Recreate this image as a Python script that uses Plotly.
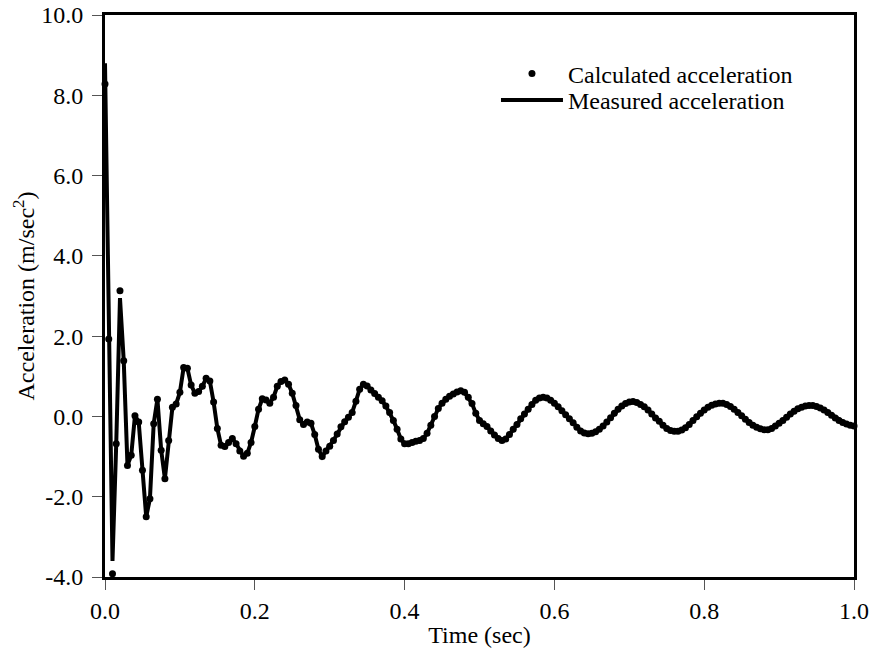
import plotly.graph_objects as go

# Time samples (sec), step 0.005
time_s = [round(i * 0.005, 3) for i in range(201)]

calculated = [
    8.28, 1.93, -3.92, -0.68, 3.13, 1.39, -1.22, -0.97, 0.02, -0.14,
    -1.34, -2.50, -2.05, -0.18, 0.43, -0.84, -1.55, -0.60, 0.23, 0.31,
    0.60, 1.22, 1.20, 0.78, 0.58, 0.62, 0.75, 0.95, 0.88, 0.36,
    -0.30, -0.72, -0.75, -0.65, -0.55, -0.68, -0.86, -0.99, -0.92, -0.65,
    -0.25, 0.18, 0.44, 0.41, 0.33, 0.48, 0.75, 0.87, 0.91, 0.80,
    0.58, 0.27, -0.08, -0.20, -0.14, -0.17, -0.45, -0.82, -1.00, -0.86,
    -0.74, -0.60, -0.44, -0.26, -0.13, -0.02, 0.10, 0.38, 0.68, 0.80,
    0.76, 0.66, 0.57, 0.48, 0.39, 0.26, 0.10, -0.10, -0.32, -0.56,
    -0.68, -0.68, -0.65, -0.62, -0.60, -0.55, -0.42, -0.22, 0.00, 0.20,
    0.33, 0.43, 0.50, 0.56, 0.61, 0.64, 0.60, 0.48, 0.32, 0.08,
    -0.10, -0.18, -0.25, -0.36, -0.46, -0.55, -0.60, -0.56, -0.45, -0.32,
    -0.20, -0.06, 0.06, 0.18, 0.30, 0.40, 0.46, 0.48, 0.46, 0.40,
    0.33, 0.24, 0.14, 0.04, -0.06, -0.16, -0.27, -0.36, -0.41, -0.43,
    -0.42, -0.38, -0.32, -0.24, -0.14, -0.03, 0.08, 0.18, 0.26, 0.32,
    0.36, 0.37, 0.35, 0.30, 0.24, 0.16, 0.06, -0.04, -0.12, -0.22,
    -0.30, -0.35, -0.37, -0.37, -0.34, -0.28, -0.20, -0.10, -0.01, 0.08,
    0.16, 0.23, 0.28, 0.31, 0.33, 0.33, 0.30, 0.25, 0.18, 0.10,
    0.02, -0.07, -0.15, -0.22, -0.27, -0.31, -0.33, -0.33, -0.30, -0.24,
    -0.17, -0.10, -0.02, 0.06, 0.13, 0.19, 0.23, 0.26, 0.27, 0.27,
    0.25, 0.21, 0.16, 0.10, 0.03, -0.04, -0.10, -0.15, -0.19, -0.22,
    -0.24,
]

measured = [
    8.80, 1.93, -3.60, -0.68, 2.95, 1.39, -1.22, -0.97, 0.02, -0.14,
    -1.34, -2.50, -2.05, -0.18, 0.43, -0.84, -1.55, -0.60, 0.23, 0.31,
    0.60, 1.22, 1.20, 0.78, 0.58, 0.62, 0.75, 0.95, 0.88, 0.36,
    -0.30, -0.72, -0.75, -0.65, -0.55, -0.68, -0.86, -0.99, -0.92, -0.65,
    -0.25, 0.18, 0.44, 0.41, 0.33, 0.48, 0.75, 0.87, 0.91, 0.80,
    0.58, 0.27, -0.08, -0.20, -0.14, -0.17, -0.45, -0.82, -1.00, -0.86,
    -0.74, -0.60, -0.44, -0.26, -0.13, -0.02, 0.10, 0.38, 0.68, 0.80,
    0.76, 0.66, 0.57, 0.48, 0.39, 0.26, 0.10, -0.10, -0.32, -0.56,
    -0.68, -0.68, -0.65, -0.62, -0.60, -0.55, -0.42, -0.22, 0.00, 0.20,
    0.33, 0.43, 0.50, 0.56, 0.61, 0.64, 0.60, 0.48, 0.32, 0.08,
    -0.10, -0.18, -0.25, -0.36, -0.46, -0.55, -0.60, -0.56, -0.45, -0.32,
    -0.20, -0.06, 0.06, 0.18, 0.30, 0.40, 0.46, 0.48, 0.46, 0.40,
    0.33, 0.24, 0.14, 0.04, -0.06, -0.16, -0.27, -0.36, -0.41, -0.43,
    -0.42, -0.38, -0.32, -0.24, -0.14, -0.03, 0.08, 0.18, 0.26, 0.32,
    0.36, 0.37, 0.35, 0.30, 0.24, 0.16, 0.06, -0.04, -0.12, -0.22,
    -0.30, -0.35, -0.37, -0.37, -0.34, -0.28, -0.20, -0.10, -0.01, 0.08,
    0.16, 0.23, 0.28, 0.31, 0.33, 0.33, 0.30, 0.25, 0.18, 0.10,
    0.02, -0.07, -0.15, -0.22, -0.27, -0.31, -0.33, -0.33, -0.30, -0.24,
    -0.17, -0.10, -0.02, 0.06, 0.13, 0.19, 0.23, 0.26, 0.27, 0.27,
    0.25, 0.21, 0.16, 0.10, 0.03, -0.04, -0.10, -0.15, -0.19, -0.22,
    -0.24,
]

x_tick_vals = [0.0, 0.2, 0.4, 0.6, 0.8, 1.0]
x_tick_text = ["0.0", "0.2", "0.4", "0.6", "0.8", "1.0"]
y_tick_vals = [-4, -2, 0, 2, 4, 6, 8, 10]
y_tick_text = ["-4.0", "-2.0", "0.0", "2.0", "4.0", "6.0", "8.0", "10.0"]

FONT = "Liberation Serif, Times New Roman, serif"
FS = 24

fig = go.Figure()
fig.add_trace(go.Scatter(
    x=time_s, y=measured, mode="lines", name="Measured acceleration",
    line=dict(color="black", width=4),
    legend="legend2",
))
fig.add_trace(go.Scatter(
    x=time_s, y=calculated, mode="markers", name="Calculated acceleration",
    marker=dict(color="black", size=7),
    cliponaxis=False,
    legend="legend",
))

axis_common = dict(
    showgrid=False, zeroline=False,
    showline=True, linecolor="black", linewidth=3, mirror=True,
    ticks="outside", ticklen=10, tickwidth=1, tickcolor="#555555",
    tickfont=dict(family=FONT, size=FS, color="black"),
    automargin=False,
)

legend_common = dict(
    xanchor="left", yanchor="middle",
    bgcolor="rgba(0,0,0,0)",
    font=dict(family=FONT, size=FS, color="black"),
    itemwidth=62,
)

fig.update_layout(
    width=874, height=651,
    margin=dict(l=105, r=20, t=15, b=74),
    plot_bgcolor="white", paper_bgcolor="white",
    font=dict(family=FONT, size=FS, color="black"),
    showlegend=True,
    legend=dict(x=0.522, y=0.895, **legend_common),
    legend2=dict(x=0.522, y=0.848, **legend_common),
    xaxis=dict(
        range=[0, 1], tickvals=x_tick_vals, ticktext=x_tick_text,
        ticklabelstandoff=0,
        title=dict(text="Time (sec)", font=dict(family=FONT, size=FS), standoff=4),
        **axis_common,
    ),
    yaxis=dict(
        range=[-4, 10], tickvals=y_tick_vals, ticktext=y_tick_text,
        ticklabelstandoff=4,
        title=dict(text="Acceleration (m/sec<sup>2</sup>)", font=dict(family=FONT, size=FS), standoff=0),
        **axis_common,
    ),
)

fig.write_html(
    "out.html",
    config={"displayModeBar": False},
    post_script="document.body.style.margin='0';",
)
